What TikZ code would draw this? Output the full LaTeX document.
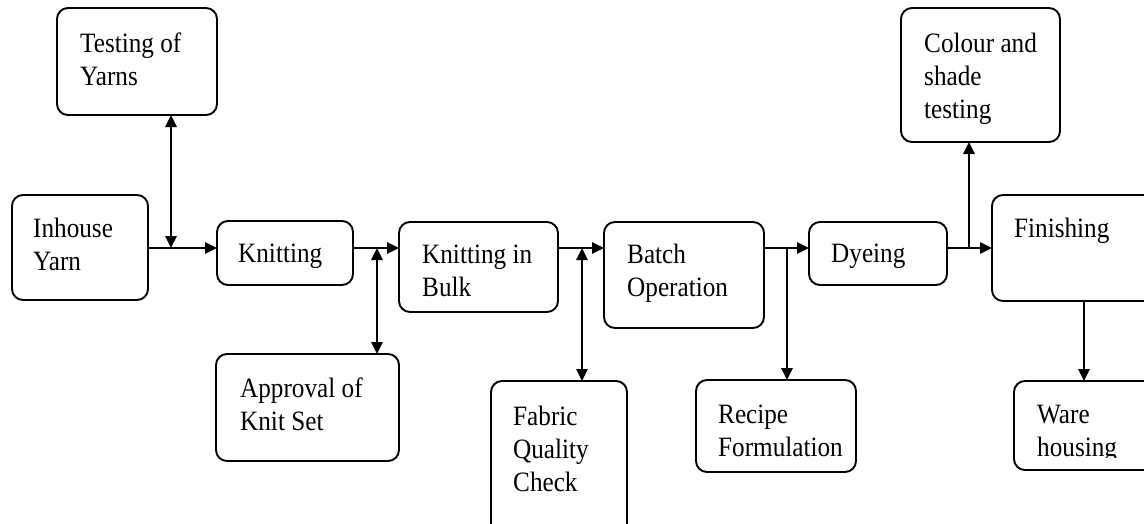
\documentclass[tikz,border=0pt]{standalone}
\usepackage{fontspec}
\setmainfont{Liberation Serif}[FakeStretch=0.9]
\usetikzlibrary{arrows.meta}
\newcommand\bx[5]{\node[box,minimum width={#4-#2},minimum height={#5-#3}] (#1) at ({(#2+#4)/2},{(#3+#5)/2}) {};}
\newcommand\tx[4]{\node[txt] (#1) at (#2,#3) {\begin{tabular}[t]{@{}l@{}}#4\end{tabular}};}
\begin{document}
\begin{tikzpicture}[x=1pt,y=-1pt,
  box/.style={draw,line width=1.9pt,rounded corners=11pt,inner sep=0pt,outer sep=0pt},
  txt/.style={inner sep=0pt,anchor=base west,font=\fontsize{28}{33}\selectfont},
  arr/.style={line width=2.6pt,-{Triangle[length=12pt,width=11pt]}},
  dbl/.style={line width=2.6pt,{Triangle[length=12pt,width=11pt]}-{Triangle[length=12pt,width=11pt]}}]
\useasboundingbox (0,0) rectangle (1144,523);
\clip (0,0) rectangle (1144,523);
% boxes
\bx{ty}{57}{8}{217}{115}
\bx{iy}{12}{195}{148}{300}
\bx{kn}{217}{221}{353}{285}
\bx{ap}{216}{354}{399}{461}
\bx{kb}{399}{222}{558}{312}
\bx{fq}{491}{381}{627}{545}
\bx{bo}{604}{222}{764}{328}
\bx{rf}{696}{380}{856}{472}
\bx{dy}{809}{222}{947}{285}
\bx{cs}{901}{8}{1060}{142}
\bx{fi}{992}{195}{1175}{301}
\bx{wh}{1014}{381}{1175}{470}
% texts
\tx{tyt}{80}{52}{Testing of\\Yarns}
\tx{iyt}{33}{237}{Inhouse\\Yarn}
\tx{knt}{238}{262}{Knitting}
\tx{apt}{240}{397}{Approval of\\Knit Set}
\tx{kbt}{422}{263}{Knitting in\\Bulk}
\tx{fqt}{513}{425}{Fabric\\Quality\\Check}
\tx{bot}{627}{263}{Batch\\Operation}
\tx{rft}{718}{423}{Recipe\\Formulation}
\tx{dyt}{831}{262}{Dyeing}
\tx{cst}{924}{52}{Colour and\\shade\\testing}
\tx{fit}{1014}{237}{Finishing}
\begin{scope}
\clip (1000,381) rectangle (1144,457);
\tx{wht}{1037}{423}{Ware\\housing}
\end{scope}
% connectors
\coordinate (m) at (0,248);
\coordinate (j1) at (171,248);
\coordinate (j2) at (377,248);
\coordinate (j3) at (582,248);
\coordinate (j4) at (787,248);
\coordinate (j5) at (969,248);
\coordinate (j6) at (1084,0);
\draw[arr] (iy.east|-m) -- (kn.west|-m);
\draw[dbl] (j1|-ty.south) -- (j1);
\draw[arr] (kn.east|-m) -- (kb.west|-m);
\draw[dbl] (j2) -- (j2|-ap.north);
\draw[arr] (kb.east|-m) -- (bo.west|-m);
\draw[dbl] (j3) -- (j3|-fq.north);
\draw[arr] (bo.east|-m) -- (dy.west|-m);
\draw[arr] (j4) -- (j4|-rf.north);
\draw[arr] (dy.east|-m) -- (fi.west|-m);
\draw[arr] (j5) -- (j5|-cs.south);
\draw[arr] (j6|-fi.south) -- (j6|-wh.north);
\end{tikzpicture}
\end{document}
